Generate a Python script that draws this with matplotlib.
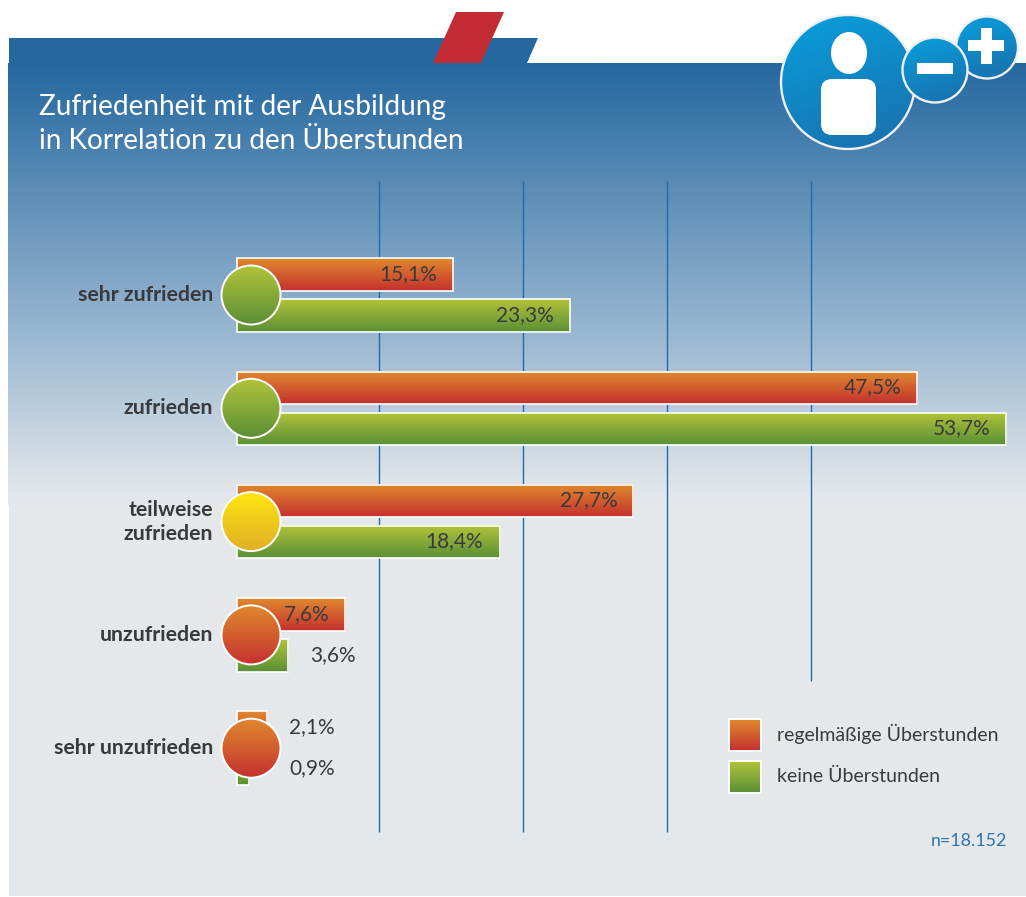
import numpy as np
import matplotlib
matplotlib.use("Agg")
import matplotlib.pyplot as plt
from matplotlib.colors import LinearSegmentedColormap as LSC
from matplotlib.patches import Polygon, Circle, Ellipse, FancyBboxPatch, Rectangle

categories = ["sehr zufrieden", "zufrieden", "teilweise\nzufrieden", "unzufrieden", "sehr unzufrieden"]
regular_overtime = [15.1, 47.5, 27.7, 7.6, 2.1]
no_overtime = [23.3, 53.7, 18.4, 3.6, 0.9]
series_names = ["regelmäßige Überstunden", "keine Überstunden"]
grid_values = [10, 20, 30, 40]
title_text = "Zufriedenheit mit der Ausbildung\nin Korrelation zu den Überstunden"
note_text = "n=18.152"

W, H = 1026, 897
plt.rcParams["font.family"] = ["Lato", "DejaVu Sans"]

ORANGE_RED = ["#E08A2E", "#C4302F"]
GREEN = ["#B2C43A", "#5A8F36"]
YELLOW = ["#FFE610", "#E0AE28"]
DOT = [GREEN, GREEN, YELLOW, ORANGE_RED, ORANGE_RED]
TXT = "#3A3A3C"

def cm(c):
    return LSC.from_list("g", c)

grad = np.linspace(0, 1, 256).reshape(-1, 1)
xx, yy = np.meshgrid(np.linspace(0, 1, 128), np.linspace(0, 1, 128))
diag = 0.25 * xx + 0.75 * yy
fig = plt.figure(figsize=(W / 100, H / 100), dpi=100, facecolor="white")

def pixel_axes(z):
    a = fig.add_axes([0, 0, 1, 1], zorder=z)
    a.set_xlim(0, W)
    a.set_ylim(H, 0)
    a.axis("off")
    a.patch.set_alpha(0)
    return a

bg = pixel_axes(0)
panel_cmap = LSC.from_list("p", [(0, "#24689F"), (0.33, "#6493BB"), (0.68, "#A6C0D6"), (0.97, "#E2E6EA"), (1, "#E5E8EB")])
bg.add_patch(Rectangle((9, 505), W - 9, 391, fc="#E5E8EB", ec="none"))
bg.imshow(grad, cmap=panel_cmap, extent=(8, W, 505, 63), aspect="auto", zorder=1)
bg.add_patch(Polygon([(9, 38), (538, 38), (527, 63), (9, 63)], fc="#24689F", ec="none", zorder=2))
bg.add_patch(Polygon([(433, 63), (456, 12), (504, 12), (481, 63)], fc="#C22B33", ec="none", zorder=3))
title_lines = title_text.split("\n")
bg.text(39, 106.5, title_lines[0], color="white", fontsize=20.2, va="center", ha="left", zorder=4)
bg.text(39, 141, title_lines[1], color="white", fontsize=20.2, va="center", ha="left", zorder=4)

# gridlines keep their own slightly different pitch in the source graphic
grid_bottoms = [832, 832, 832, 681]
for g, b in zip(grid_values, grid_bottoms):
    gx = 234.5 + 14.4 * g
    bg.plot([gx, gx], [181, b], color="#1F6BAE", lw=1.0, zorder=5, solid_capstyle="butt")
bg.set_xlim(0, W)
bg.set_ylim(H, 0)

# data axes: x in percent, y in category rows
PX = 14.33
X0 = 236.5
ROW = 113.3
Y0 = 295.0
ax = fig.add_axes([0, 0, 1, 1], zorder=1)
ax.axis("off")
ax.patch.set_alpha(0)
rows = np.arange(len(categories))
bar_h = 32.5 / ROW
off = 20.5 / ROW

def gbar(val, y, colors):
    ax.barh(y, val, height=bar_h, left=0, color="none", edgecolor="white", linewidth=1.2, zorder=4)
    ax.imshow(grad, cmap=cm(colors), extent=(0, val, y + bar_h / 2, y - bar_h / 2), aspect="auto", zorder=3)

for i, (a_, b_) in enumerate(zip(regular_overtime, no_overtime)):
    gbar(a_, i - off, ORANGE_RED)
    gbar(b_, i + off, GREEN)
ax.set_xlim(-X0 / PX, (W - X0) / PX)
ax.set_ylim((H - Y0) / ROW, -Y0 / ROW)

fmt = lambda v: f"{v:.1f}".replace(".", ",") + "%"
reg_offsets = [-16, -16, -16, -16, 68]
nov_offsets = [-17, -15, -17, 68, 86]
for i in rows:
    for v, y, d in ((regular_overtime[i], i - off, reg_offsets[i]), (no_overtime[i], i + off, nov_offsets[i])):
        ax.annotate(fmt(v), (v, y), xytext=(d * 0.72, 0.5), textcoords="offset points", ha="right", va="center",
                    fontsize=15, color=TXT, zorder=6)

fg = pixel_axes(2)
for i, cat in enumerate(categories):
    yc = Y0 + ROW * i
    c = Circle((251, yc), 29.5, fc="none", ec="white", lw=1.4, zorder=3)
    fg.add_patch(c)
    im = fg.imshow(grad, cmap=cm(DOT[i]), extent=(221, 281, yc + 30, yc - 30), aspect="auto", zorder=2)
    im.set_clip_path(c)
    fg.text(213, yc, cat, ha="right", va="center", fontsize=15.3, fontweight="bold", color=TXT, linespacing=1.25)

ICON = ["#089FDD", "#1A6FAB"]
def icon(cx, cy, r, z):
    c = Circle((cx, cy), r, fc="none", ec="#EEF0F2", lw=1.7, zorder=z + 1)
    fg.add_patch(c)
    im = fg.imshow(diag, cmap=cm(ICON), extent=(cx - r, cx + r, cy + r, cy - r), aspect="auto", zorder=z)
    im.set_clip_path(c)

icon(848, 82, 67, 5)
fg.add_patch(Ellipse((849, 53), 36, 42, fc="white", ec="none", zorder=7))
fg.add_patch(FancyBboxPatch((829, 87), 39, 40, boxstyle="round,pad=8,rounding_size=11", fc="white", ec="none", zorder=7))
icon(987, 47.5, 31, 8)
fg.add_patch(Rectangle((968, 40), 36, 11, fc="white", ec="none", zorder=10))
fg.add_patch(Rectangle((981, 28), 11, 36, fc="white", ec="none", zorder=10))
icon(935, 70, 32.5, 11)
fg.add_patch(Rectangle((917, 63), 36, 11, fc="white", ec="none", zorder=13))

for y, col, name in ((719, ORANGE_RED, series_names[0]), (761, GREEN, series_names[1])):
    fg.imshow(grad, cmap=cm(col), extent=(729, 761, y + 32, y), aspect="auto", zorder=2)
    fg.add_patch(Rectangle((729, y), 32, 32, fc="none", ec="white", lw=1.4, zorder=3))
    fg.text(777, y + 15, name, ha="left", va="center", fontsize=14, color=TXT)
fg.text(1007, 841, note_text, ha="right", va="center", fontsize=12.8, color="#2E75AE")
fg.set_xlim(0, W)
fg.set_ylim(H, 0)

fig.savefig("out.png", dpi=100, facecolor="white")
